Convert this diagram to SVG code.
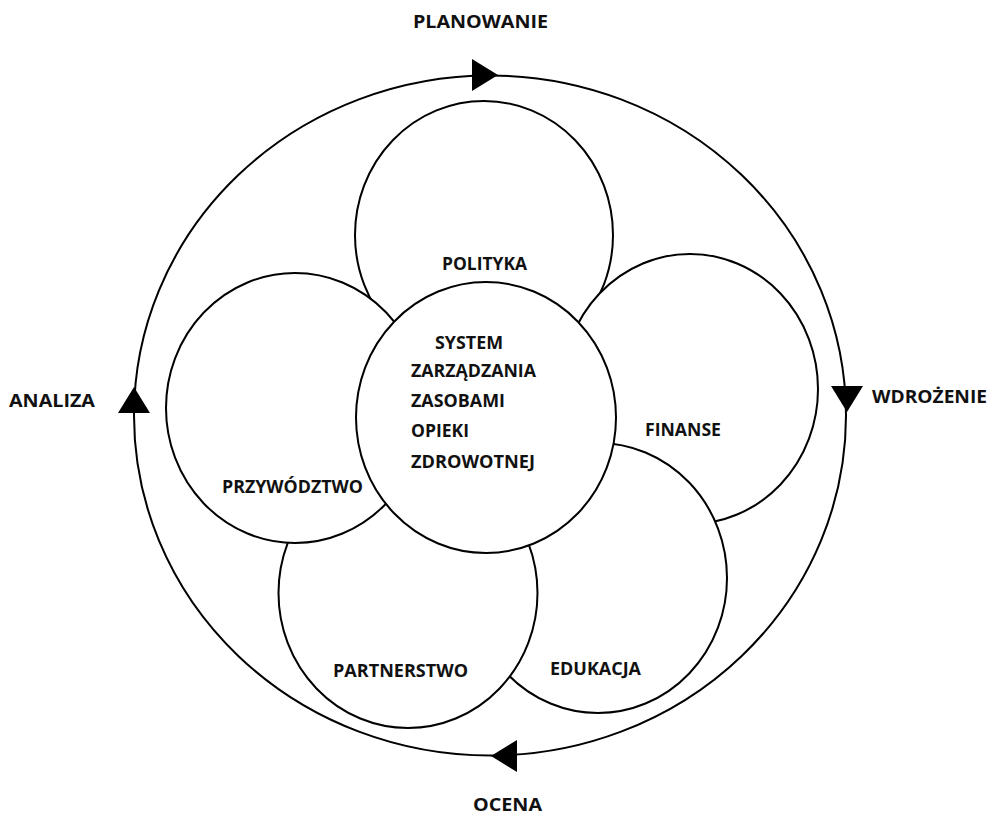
<svg xmlns="http://www.w3.org/2000/svg" xmlns:xlink="http://www.w3.org/1999/xlink" width="990" height="815" viewBox="0 0 990 815">
  <style>
    .petal { fill: #ffffff; stroke: #000000; stroke-width: 2; }
    .ring { fill: none; stroke: #000000; stroke-width: 2; }
    .lbl { font-family: "Open Sans", "Liberation Sans", sans-serif; font-weight: bold; font-size: 18px; fill: #111111; }
  </style>
  <defs>
    <path id="arrowhead" d="M0,0 L-26,-16 L-26,16 Z" fill="#000000"/>
  </defs>
  <rect width="990" height="815" fill="#ffffff"/>

  <g id="connectors">
    <ellipse class="ring" cx="490" cy="415.5" rx="356" ry="340"/>
    <use xlink:href="#arrowhead" transform="translate(498,75)"/>
    <use xlink:href="#arrowhead" transform="translate(847,412) rotate(90)"/>
    <use xlink:href="#arrowhead" transform="translate(491,756) rotate(180)"/>
    <use xlink:href="#arrowhead" transform="translate(134,387) rotate(-90)"/>
  </g>

  <g id="stage-labels">
    <text class="lbl" x="413" y="28" textLength="135" lengthAdjust="spacingAndGlyphs">PLANOWANIE</text>
    <text class="lbl" x="872" y="403" textLength="115" lengthAdjust="spacingAndGlyphs">WDROŻENIE</text>
    <text class="lbl" x="473" y="811" textLength="69" lengthAdjust="spacingAndGlyphs">OCENA</text>
    <text class="lbl" x="9" y="407" textLength="86" lengthAdjust="spacingAndGlyphs">ANALIZA</text>
  </g>

  <g id="polityka">
    <ellipse class="petal" cx="484" cy="235" rx="129" ry="134"/>
    <text class="lbl" x="442" y="270" textLength="85" lengthAdjust="spacingAndGlyphs">POLITYKA</text>
  </g>
  <g id="finanse">
    <ellipse class="petal" cx="690" cy="389" rx="128" ry="135"/>
    <text class="lbl" x="645" y="436" textLength="76" lengthAdjust="spacingAndGlyphs">FINANSE</text>
  </g>
  <g id="edukacja">
    <ellipse class="petal" cx="598" cy="578" rx="129" ry="135"/>
    <text class="lbl" x="550" y="675" textLength="91" lengthAdjust="spacingAndGlyphs">EDUKACJA</text>
  </g>
  <g id="partnerstwo">
    <ellipse class="petal" cx="408" cy="593" rx="129.5" ry="135"/>
    <text class="lbl" x="333" y="677" textLength="135" lengthAdjust="spacingAndGlyphs">PARTNERSTWO</text>
  </g>
  <g id="przywodztwo">
    <ellipse class="petal" cx="295" cy="408" rx="129" ry="135"/>
    <text class="lbl" x="222" y="493" textLength="141" lengthAdjust="spacingAndGlyphs">PRZYWÓDZTWO</text>
  </g>
  <g id="system">
    <ellipse class="petal" cx="486" cy="417.5" rx="130" ry="135.5"/>
    <text class="lbl" x="435" y="349" textLength="68" lengthAdjust="spacingAndGlyphs">SYSTEM</text>
    <text class="lbl" x="411" y="377" textLength="125" lengthAdjust="spacingAndGlyphs">ZARZĄDZANIA</text>
    <text class="lbl" x="411" y="407" textLength="94" lengthAdjust="spacingAndGlyphs">ZASOBAMI</text>
    <text class="lbl" x="411" y="437" textLength="58" lengthAdjust="spacingAndGlyphs">OPIEKI</text>
    <text class="lbl" x="411" y="468" textLength="124" lengthAdjust="spacingAndGlyphs">ZDROWOTNEJ</text>
  </g>
</svg>
